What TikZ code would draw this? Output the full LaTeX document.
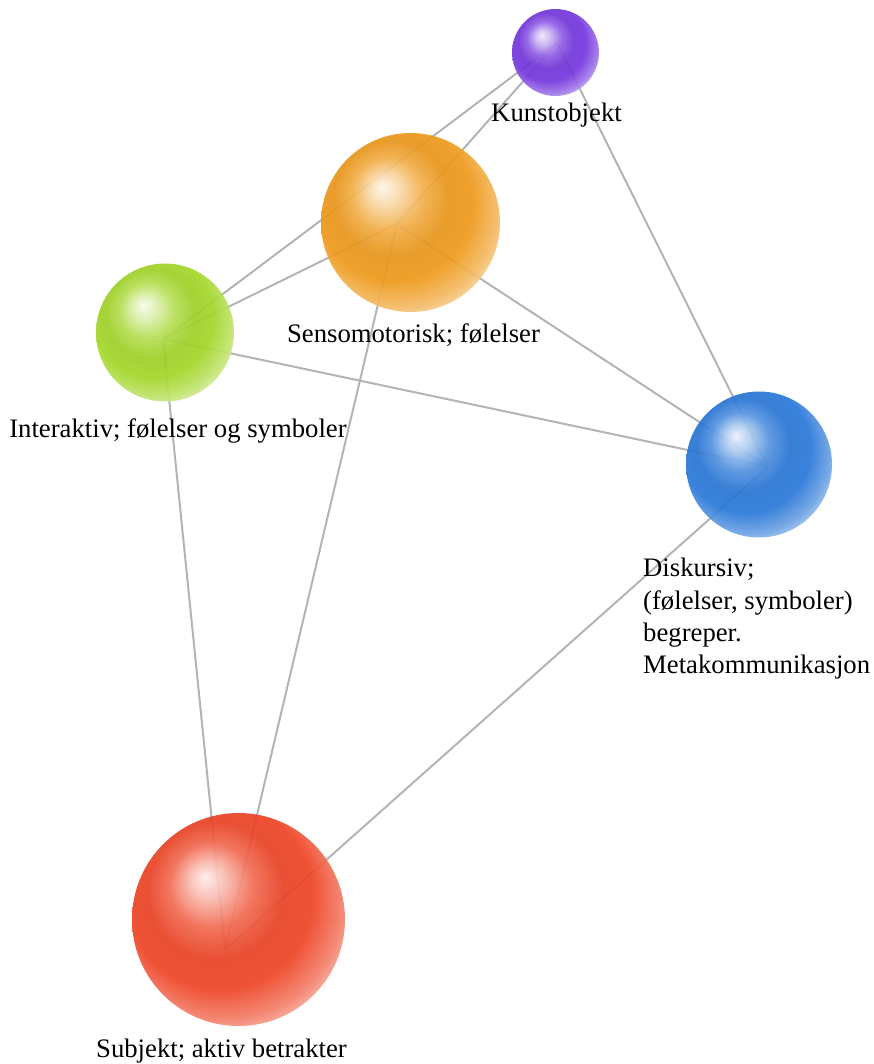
\documentclass[tikz,border=0pt]{standalone}
\usepackage{fontspec}
\setmainfont{Liberation Serif}
\definecolor{cK}{HTML}{7538DE}
\definecolor{cS}{HTML}{EE9A1C}
\definecolor{cI}{HTML}{A3D62A}
\definecolor{cD}{HTML}{2A78D8}
\definecolor{cR}{HTML}{EE4526}
\definecolor{linkgray}{HTML}{B4B4B4}
\newcommand\mksphereshade[2]{%
  \pgfdeclareradialshading{#1}{\pgfpoint{-8bp}{10bp}}{%
    color(0bp)=(#2!10!white); color(4bp)=(#2!35!white); color(10bp)=(#2!80!white);
    color(16bp)=(#2!97!black); color(22bp)=(#2); color(28bp)=(#2!68!white);
    color(33bp)=(#2!25!white); color(50bp)=(#2!15!white)}}
\mksphereshade{shK}{cK}
\mksphereshade{shS}{cS}
\mksphereshade{shI}{cI}
\mksphereshade{shD}{cD}
\mksphereshade{shR}{cR}
\begin{document}
\begin{tikzpicture}[x=1pt,y=-1pt,
  link/.style={draw=linkgray, line width=2pt},
  ball/.style={circle, inner sep=0pt, minimum size=#1, fill opacity=0.93},
  lbl/.style={inner sep=0pt, font=\fontsize{26.7}{32.4}\selectfont, text=black}]
\useasboundingbox (0,0) rectangle (873,1064);
% hubs where connectors meet
\coordinate (kh) at (557,43);
\coordinate (sh) at (397,224);
\coordinate (ih) at (163,339);
\coordinate (dh) at (768,467);
\coordinate (rh) at (225,950);
% connectors
\draw[link] (kh) -- (ih);
\draw[link] (kh) -- (sh);
\draw[link] (kh) -- (dh);
\draw[link] (sh) -- (ih);
\draw[link] (sh) -- (dh);
\draw[link] (sh) -- (rh);
\draw[link] (ih) -- (dh);
\draw[link] (ih) -- (rh);
\draw[link] (dh) -- (rh);
% spheres
\node[ball=87pt, shade, shading=shK] (kunst) at (555.5,52.5) {};
\node[ball=179pt, shade, shading=shS] (senso) at (410.5,222.5) {};
\node[ball=138pt, shade, shading=shI] (inter) at (165,332.5) {};
\node[ball=146pt, shade, shading=shD] (disk) at (759,464.5) {};
\node[ball=213pt, shade, shading=shR] (subj) at (238.5,919.5) {};
% labels
\node[lbl, anchor=base] (kunstlbl) at (556.5,122) {Kunstobjekt};
\node[lbl, anchor=base] (sensolbl) at (413.5,342) {Sensomotorisk; følelser};
\node[lbl, anchor=base] (interlbl) at (178,437) {Interaktiv; følelser og symboler};
\node[lbl, anchor=north west, align=left] (disklbl) at (643,558) {Diskursiv;\\(følelser, symboler)\\begreper.\\Metakommunikasjon};
\node[lbl, anchor=base] (subjlbl) at (221.5,1057) {Subjekt; aktiv betrakter};
\end{tikzpicture}
\end{document}
